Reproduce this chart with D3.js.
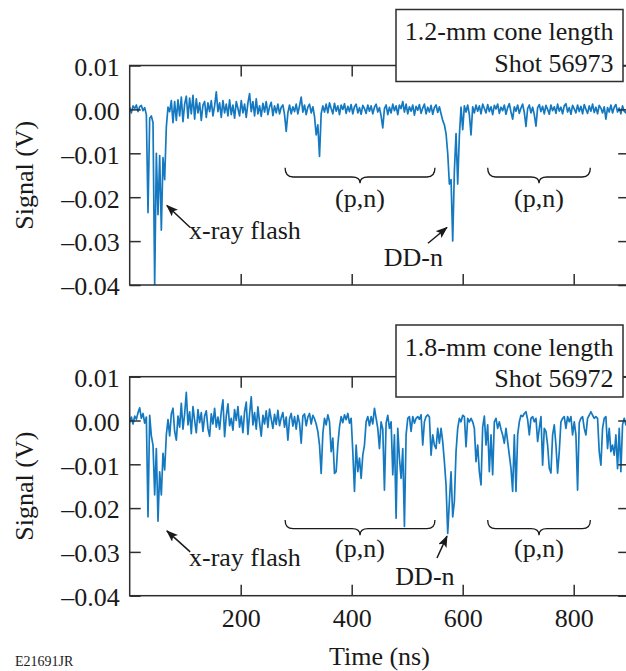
<!DOCTYPE html>
<html><head><meta charset="utf-8">
<script src="https://cdn.jsdelivr.net/npm/d3@7"></script>
<style>body{margin:0;background:#fff}svg{display:block}</style>
</head><body><svg id="chart" width="626" height="671"></svg>
<script>
// ---- data (signal in mV, sampled every sampleStepNs from t = 0) ----
const sampleStepNs = 3;
const shot56973_mV = [
0.5,-0.8,0.8,0.2,1.0,-0.5,0.6,0.9,-0.3,0.4,
-1.2,-23.5,-2.0,-1.5,-3.0,-40,-10,-24,-10.5,-27.5,
-11,-16,-4,0.5,-0.5,2.0,-3.0,1.8,-2.5,2.2,
-1.5,2.8,-2.8,1.2,3.0,-2.0,2.6,-1.0,3.2,-2.2,
2.4,-0.8,1.5,-2.5,1.0,1.8,-1.8,1.5,-0.5,2.0,
-1.5,0.8,4.0,-0.5,1.5,-1.8,2.0,-0.8,1.2,-1.5,
2.2,-1.2,1.0,-2.0,1.8,0.2,-1.5,2.0,-0.8,1.2,
-1.8,1.5,3.6,-0.5,1.8,-1.5,2.4,-1.0,0.8,-1.6,
1.4,-0.6,1.8,-1.2,0.6,1.6,-1.4,0.8,-0.8,1.2,
-1.0,0.5,1.0,-1.2,-5.0,-0.8,1.0,-1.0,0.6,-0.5,
1.2,-1.0,0.8,2.8,-0.6,1.0,-1.2,0.5,1.2,-0.8,
0.6,-1.6,-5.8,-3.5,-10.7,-1.0,0.8,-0.6,1.2,-0.8,
1.5,0.2,-1.0,1.4,-0.4,0.8,-1.2,1.0,0.0,1.3,
-0.9,0.7,-0.5,1.1,-1.0,0.6,1.2,-0.8,0.4,-1.1,
0.9,0.2,-0.9,1.0,-0.4,0.8,-1.0,0.5,1.2,-0.6,
0.4,-1.5,-4.2,0.2,1.0,-1.2,0.5,-0.8,1.2,-0.3,
0.8,-1.2,1.0,0.2,1.8,-0.6,1.2,-1.0,0.6,-0.4,
1.0,-1.3,0.7,-0.2,1.1,-0.9,0.3,1.2,-1.0,0.5,
-0.6,0.9,-1.1,0.4,1.0,-0.7,0.6,-1.0,-2.5,-3.5,
-5.5,-10,-17,-16,-30,-14,-5.5,-17,-6,0.5,
-4.6,0.8,-0.6,1.0,-1.2,-5.8,0.6,-0.8,1.0,-0.4,
0.8,-1.0,1.2,0.2,-0.8,1.1,-0.5,0.6,-1.2,0.9,
0.1,1.2,-0.9,0.5,-0.3,1.0,-1.1,0.4,1.3,-0.6,
-2.2,0.6,-0.4,1.0,-0.9,0.3,1.2,-0.7,-3.9,0.2,
1.0,-0.8,0.5,-1.2,-3.8,0.4,1.1,-0.5,0.7,-1.0,
0.9,0.0,-1.1,1.0,-0.3,0.6,-0.9,1.2,-0.4,0.5,
-1.0,0.8,1.3,-0.6,0.4,-1.1,0.9,0.1,-0.8,1.0,
-0.5,0.7,-1.0,1.1,0.0,-0.9,0.8,-0.4,1.2,-0.7,
0.5,-1.0,0.9,0.3,-0.8,0.6,-2.2,0.4,-0.6,1.0,
-0.8,0.5,1.1,-0.6,0.3,-1.0,0.8,-0.4,-0.8,0.2];
const shot56972_mV = [
-0.5,0.8,-0.8,1.0,0.3,1.8,2.9,0.5,1.6,-0.6,
0.8,-22,1.2,-3.5,-5.6,-17,-6.4,-23,-11.7,-17,
-7.5,-11.3,-3.3,0.2,-3.5,1.5,2.8,-2.5,-4.5,1.0,
-1.5,3.9,-2.0,1.5,6.4,-1.0,2.0,-3.0,3.2,0.0,
-2.8,2.5,-0.5,1.8,-2.5,1.0,2.2,-1.8,-3.6,1.5,
-0.8,2.8,-1.5,0.8,-2.0,2.0,4.7,-3.7,1.0,3.8,
-1.2,0.5,-2.2,2.5,0.0,3.2,-1.5,1.0,-2.8,2.0,
4.2,-3.2,1.5,5.4,-1.0,1.8,-2.0,3.1,-0.5,-3.6,
1.2,-0.8,2.2,-1.6,2.6,0.3,-1.8,1.4,-0.9,2.3,
-1.2,0.6,1.8,-1.5,0.8,-4.5,0.4,1.6,-1.3,0.9,
-2.0,1.2,-0.6,-5.2,1.0,1.5,-1.2,0.8,1.6,-0.8,
1.2,0.4,-0.8,-2.5,-5.6,-12.1,-3.0,0.5,-1.0,1.3,
-0.3,-7.1,-4.0,-12.1,-11.7,-5.6,-1.5,0.9,-0.5,1.3,
0.2,1.6,-0.6,0.5,-7.1,-16.2,-5.6,-11.7,-8.6,-13.2,
-7.9,-5.6,-0.3,0.9,-1.2,0.9,-0.8,2.8,0.5,-1.8,
-6.4,-0.3,-2.0,-15.9,-0.6,1.2,-1.8,-0.3,-12.4,-3.3,
-22.3,-1.8,-8.6,-13.2,-6.4,-24.2,-3.3,0.5,0.9,-2.5,
0.9,-0.6,0.5,0.9,0.3,1.3,-5.6,-0.3,0.9,1.3,
0.8,-7.9,-3.3,-5.6,-6.4,-1.8,-5.2,-1.8,-4.8,-9.4,
-14.7,-25.8,-18.5,-11.7,-22.0,-18.5,-7.1,-1.8,0.5,-0.3,
1.2,0.9,-6.0,0.5,-0.3,0.5,-0.3,-1.8,-9.4,-5.6,
-11.7,-14.7,-1.5,1.0,-5.6,-1.0,-11.7,-3.3,-12.4,-0.3,
0.5,-1.8,-0.3,-2.0,-3.3,-5.2,-1.8,-4.8,-7.9,-10.9,
-16.2,-3.3,-16.2,-3.3,-0.3,1.2,0.9,1.6,2.0,0.2,
-3.3,0.5,0.9,-0.3,0.5,-4.8,-1.8,0.9,-10.2,-1.8,
-2.5,-5.6,-10.9,-12.0,-3.3,-1.0,-5.6,-12.0,-7.1,-0.3,
0.5,0.9,-1.8,0.9,-0.3,0.9,-3.3,-0.3,-3.3,-15.9,
-0.5,0.5,0.9,-1.8,-3.3,0.5,1.2,2.0,1.2,0.5,
0.9,0.5,-7.1,-10.2,-1.8,0.5,0.9,-6.4,-1.8,-7.1,
-5.6,-7.9,-3.3,-11.0,-1.8,-11.7,-1.0,0.5,-1.0,0.3];
const timeDomainNs = [0, 900];
const signalDomainV = [-0.04, 0.01];
const xTickValues = [200, 400, 600, 800];
const yTickValues = [0.01, 0.00, -0.01, -0.02, -0.03, -0.04];
const panelTitles = [["1.2-mm cone length", "Shot 56973"], ["1.8-mm cone length", "Shot 56972"]];
const braceSpansNs = [[280, 550], [645, 830]];
const xLabel = "Time (ns)";
const yLabel = "Signal (V)";
const figureId = "E21691JR";

// ---- layout ----
const FONT = "'Liberation Serif','Times New Roman',Times,serif";
const INK = "#1a1a1a", AXIS = "#2e2e2e", TRACE = "#1479c0";
const svg = d3.select("#chart");
svg.append("rect").attr("width", 626).attr("height", 671).attr("fill", "#fff");
const x = d3.scaleLinear().domain(timeDomainNs).range([129.7, 629.2]);

const defs = svg.append("defs");
defs.append("marker").attr("id", "arrow").attr("markerUnits", "userSpaceOnUse")
  .attr("markerWidth", 12).attr("markerHeight", 9).attr("refX", 11).attr("refY", 4.5)
  .attr("orient", "auto")
  .append("path").attr("d", "M0,0 L12,4.5 L0,9 L2.5,4.5 Z").attr("fill", INK);

const fmt = v => (v < -1e-9 ? "\u2013" : "") + Math.abs(v).toFixed(2);

const panels = [
  { values: shot56973_mV, title: panelTitles[0], top: 65.5, bottom: 285, boxTop: 9.5, xLabels: false,
    braceY: [-0.0133, -0.0154, -0.0168], pnY: -0.0222,
    xray: { textNs: 106.8, textV: -0.0296, tail: [109, -0.0269], tip: [67, -0.0219] },
    dd:   { textNs: 511, textV: -0.0357, tail: [537.5, -0.0305], tip: [571.7, -0.0269] } },
  { values: shot56972_mV, title: panelTitles[1], top: 376.7, bottom: 595.7, boxTop: 325, xLabels: true,
    braceY: [-0.0227, -0.0247, -0.0262], pnY: -0.0311,
    xray: { textNs: 106.8, textV: -0.0333, tail: [109, -0.0300], tip: [67, -0.0252] },
    dd:   { textNs: 532, textV: -0.0376, tail: [553.7, -0.0314], tip: [571.7, -0.0264] } }
];

panels.forEach((p, k) => {
  const y = d3.scaleLinear().domain(signalDomainV).range([p.bottom, p.top]);
  const g = svg.append("g");
  const [x0, x1] = x.range();
  defs.append("clipPath").attr("id", "clip" + k).append("rect")
    .attr("x", x0).attr("y", p.top).attr("width", x1 - x0).attr("height", p.bottom - p.top);

  // trace
  g.append("path").datum(p.values)
    .attr("clip-path", `url(#clip${k})`)
    .attr("fill", "none").attr("stroke", TRACE).attr("stroke-width", 1.7)
    .attr("stroke-linejoin", "round")
    .attr("d", d3.line().x((d, i) => x(i * sampleStepNs)).y(d => y(d / 1000)));

  // axes (ticks inward)
  const styleAxis = sel => {
    sel.select(".domain").remove();
    sel.selectAll(".tick line").attr("stroke", AXIS).attr("stroke-width", 1.5);
    sel.selectAll(".tick text").attr("fill", INK).style("font-family", FONT).style("font-size", "26px");
  };
  g.append("g").attr("transform", `translate(${x0},0)`)
    .call(d3.axisLeft(y).tickValues(yTickValues).tickSizeInner(-11).tickSizeOuter(0).tickPadding(10).tickFormat(fmt))
    .call(styleAxis).call(s => s.selectAll(".tick text").attr("dy", "0.38em"));
  g.append("g").attr("transform", `translate(${x1},0)`)
    .call(d3.axisRight(y).tickValues(yTickValues).tickSizeInner(-11).tickSizeOuter(0).tickFormat(""))
    .call(styleAxis);
  g.append("g").attr("transform", `translate(0,${p.top})`)
    .call(d3.axisTop(x).tickValues(xTickValues).tickSizeInner(-11).tickSizeOuter(0).tickFormat(""))
    .call(styleAxis);
  g.append("g").attr("transform", `translate(0,${p.bottom})`)
    .call(d3.axisBottom(x).tickValues(xTickValues).tickSizeInner(-11).tickSizeOuter(0).tickPadding(12.5)
      .tickFormat(p.xLabels ? d3.format("d") : ""))
    .call(styleAxis);
  g.append("rect").attr("x", x0).attr("y", p.top).attr("width", x1 - x0).attr("height", p.bottom - p.top)
    .attr("fill", "none").attr("stroke", AXIS).attr("stroke-width", 1.5);

  // y label
  g.append("text").attr("transform", `translate(33,${(p.top + p.bottom) / 2}) rotate(-90)`)
    .attr("text-anchor", "middle").attr("fill", INK)
    .style("font-family", FONT).style("font-size", "26px").text(yLabel);

  // title box
  g.append("rect").attr("x", 396).attr("y", p.boxTop).attr("width", 227).attr("height", 72)
    .attr("fill", "#fff").attr("stroke", AXIS).attr("stroke-width", 1.5);
  p.title.forEach((t, j) => {
    g.append("text").attr("x", 613.5).attr("y", p.boxTop + 30.5 + j * 31.5)
      .attr("text-anchor", "end").attr("fill", INK)
      .style("font-family", FONT).style("font-size", "26px").text(t);
  });

  // braces and (p,n)
  braceSpansNs.forEach(([a, b]) => {
    const xa = x(a), xb = x(b), xc = (xa + xb) / 2;
    const [ya, yb, yc] = p.braceY.map(y);
    const r = 8;
    const d = `M${xa},${ya} Q${xa},${yb} ${xa + r},${yb} L${xc - r},${yb} Q${xc},${yb} ${xc},${yc}` +
              ` Q${xc},${yb} ${xc + r},${yb} L${xb - r},${yb} Q${xb},${yb} ${xb},${ya}`;
    g.append("path").attr("d", d).attr("fill", "none").attr("stroke", INK).attr("stroke-width", 1.3);
    g.append("text").attr("x", xc).attr("y", y(p.pnY)).attr("text-anchor", "middle").attr("fill", INK)
      .style("font-family", FONT).style("font-size", "26px").text("(p,n)");
  });

  // x-ray flash
  g.append("line").attr("x1", x(p.xray.tail[0])).attr("y1", y(p.xray.tail[1]))
    .attr("x2", x(p.xray.tip[0])).attr("y2", y(p.xray.tip[1]))
    .attr("stroke", INK).attr("stroke-width", 1.5).attr("marker-end", "url(#arrow)");
  g.append("text").attr("x", x(p.xray.textNs)).attr("y", y(p.xray.textV)).attr("fill", INK)
    .style("font-family", FONT).style("font-size", "26px").text("x-ray flash");

  // DD-n
  g.append("line").attr("x1", x(p.dd.tail[0])).attr("y1", y(p.dd.tail[1]))
    .attr("x2", x(p.dd.tip[0])).attr("y2", y(p.dd.tip[1]))
    .attr("stroke", INK).attr("stroke-width", 1.5).attr("marker-end", "url(#arrow)");
  g.append("text").attr("x", x(p.dd.textNs)).attr("y", y(p.dd.textV)).attr("text-anchor", "middle").attr("fill", INK)
    .style("font-family", FONT).style("font-size", "26px").text("DD-n");
});

svg.append("text").attr("x", d3.mean(x.range())).attr("y", 665).attr("text-anchor", "middle").attr("fill", INK)
  .style("font-family", FONT).style("font-size", "26px").text(xLabel);
svg.append("text").attr("x", 15).attr("y", 666).attr("fill", INK)
  .style("font-family", FONT).style("font-size", "14px").text(figureId);
</script></body></html>
